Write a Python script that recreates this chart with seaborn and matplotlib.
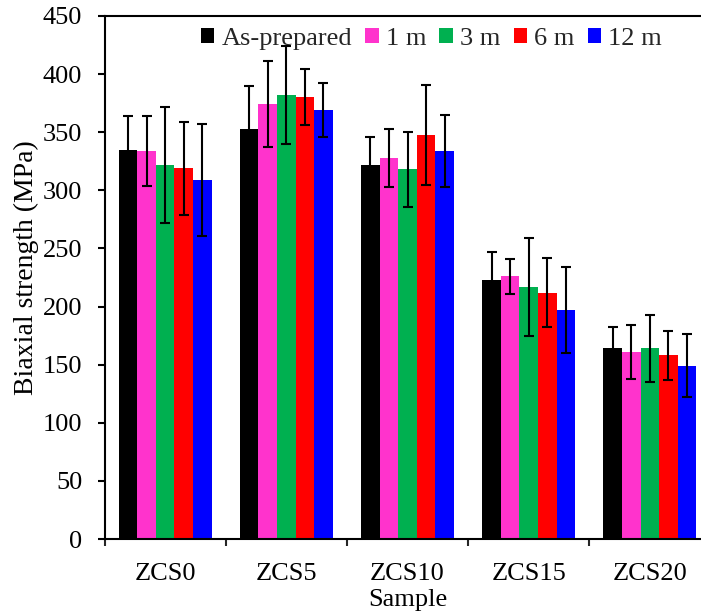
import matplotlib
matplotlib.use("Agg")
import matplotlib.pyplot as plt
import seaborn as sns
import pandas as pd
import numpy as np
from matplotlib.patches import Patch

samples = ["ZCS0", "ZCS5", "ZCS10", "ZCS15", "ZCS20"]
conditions = ["As-prepared", "1 m", "3 m", "6 m", "12 m"]
as_prepared = [335, 353, 322, 223, 164]
m1 = [334, 374, 328, 226, 161]
m3 = [322, 382, 318, 217, 164]
m6 = [319, 380, 348, 212, 158]
m12 = [309, 369, 334, 197, 149]
err_as_prepared = [29, 37, 24, 24, 18]
err_m1 = [30, 37, 25, 15, 23]
err_m3 = [50, 42, 32, 42, 29]
err_m6 = [40, 24, 43, 30, 21]
err_m12 = [48, 23, 31, 37, 27]
yticks = [0, 50, 100, 150, 200, 250, 300, 350, 400, 450]

colors = ["#000000", "#FF33CC", "#00B050", "#FF0000", "#0000FF"]
series = [as_prepared, m1, m3, m6, m12]
errs = [err_as_prepared, err_m1, err_m3, err_m6, err_m12]

rows = []
for cond, vals, ers in zip(conditions, series, errs):
    for s, v, e in zip(samples, vals, ers):
        rows.append({"Sample": s, "Condition": cond, "Strength": v, "Err": e})
df = pd.DataFrame(rows)

sns.set_theme(style="white")
plt.rcParams["font.family"] = ["Liberation Serif", "DejaVu Serif"]

fig = plt.figure(figsize=(7.01, 6.13), dpi=100)
ax = fig.add_axes([104.5 / 701, 74 / 613, 606 / 701, 523 / 613])

sns.barplot(data=df, x="Sample", y="Strength", hue="Condition",
            order=samples, hue_order=conditions, palette=colors,
            width=0.767, errorbar=None, linewidth=0, saturation=1,
            ax=ax, legend=False)

for cont, cond in zip(ax.containers, conditions):
    sub = df[df["Condition"] == cond].set_index("Sample").loc[samples]
    xs = [b.get_x() + b.get_width() / 2 for b in cont]
    ax.errorbar(xs, sub["Strength"].values, yerr=sub["Err"].values, fmt="none",
                ecolor="black", elinewidth=1.5, capsize=3.4, capthick=1.5, zorder=5)

ax.set_xlim(-0.5, 4.5)
ax.set_ylim(0, 450)
ax.set_yticks(yticks)
ax.set_xticks(range(len(samples)))
ax.set_xticklabels(samples)
ax.set_xticks(np.arange(-0.5, 4.6, 1.0), minor=True)

for sp in ax.spines.values():
    sp.set_visible(True)
    sp.set_color("black")
    sp.set_linewidth(1.5)

ax.tick_params(axis="y", which="major", direction="out", length=5, width=1.5,
               labelsize=19, colors="black", left=True, pad=11)
ax.tick_params(axis="x", which="major", direction="in", length=3, width=1.5,
               labelsize=19, colors="black", bottom=True, pad=17)
ax.tick_params(axis="x", which="minor", direction="out", length=5, width=1.5,
               bottom=True)

ax.set_xlabel("Sample", fontsize=19, color="black", labelpad=3.5)
ax.set_ylabel("Biaxial strength (MPa)", fontsize=20, color="black", labelpad=3)
ax.yaxis.label.set_y(0.518)

handles = [Patch(facecolor=c, edgecolor="none", label=l) for c, l in zip(colors, conditions)]
ax.legend(handles=handles, ncol=5, frameon=False, loc="upper left",
          bbox_to_anchor=(0.1587, 0.977), fontsize=19, handlelength=0.52,
          handleheight=0.52, handletextpad=0.26, columnspacing=0.5,
          borderaxespad=0, borderpad=0)

fig.savefig("out.png", dpi=100)
